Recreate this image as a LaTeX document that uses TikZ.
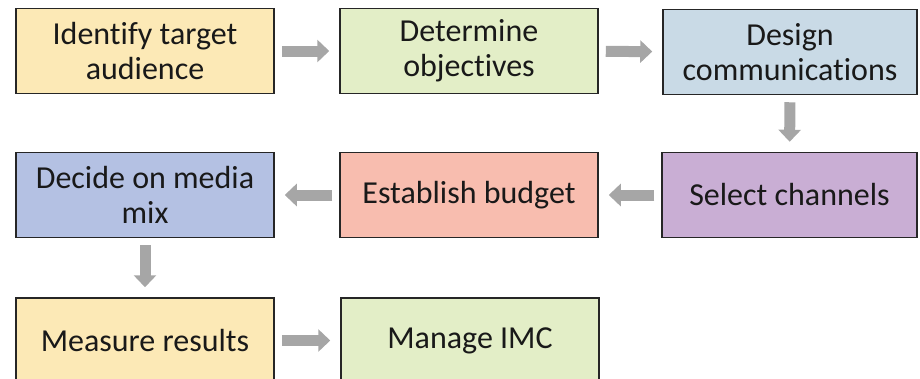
\documentclass[tikz,border=0pt]{standalone}
\usepackage{fontspec}
\setmainfont{Carlito}[Ligatures=NoCommon]
\usepackage{tikz}
\usetikzlibrary{arrows.meta}
\definecolor{jaune}{HTML}{FCE9B6}
\definecolor{vert}{HTML}{E3EEC7}
\definecolor{bleu}{HTML}{C9DAE6}
\definecolor{pervenche}{HTML}{B4C1E3}
\definecolor{saumon}{HTML}{F8BDAF}
\definecolor{lilas}{HTML}{C9AED4}
\definecolor{gris}{HTML}{A6A6A6}

\begin{document}
\begin{tikzpicture}[x=1pt, y=-1pt,
  etape/.style={draw=black!85, line width=1.5pt, minimum width=258pt, minimum height=85pt,
    inner sep=0pt, align=center, text=black!90, font=\fontsize{32}{35}\selectfont},
  fleche/.style={draw=gris, line width=11pt, -{Triangle[width=22pt,length=12pt]},
    shorten <=7pt, shorten >=10pt}]
\useasboundingbox (0,0) rectangle (920,378);
\node [etape, fill=jaune] (etape1) at (145,51) {Identify target\\audience};
\node [etape, fill=vert] (etape2) at (469,51) {Determine\\objectives};
\node [etape, fill=bleu, minimum width=254pt] (etape3) at (790,52) {Design\\communications};
\node [etape, fill=lilas, minimum width=255pt] (etape4) at (789.5,195) {Select channels};
\node [etape, fill=saumon] (etape5) at (469,195) {Establish budget};
\node [etape, fill=pervenche] (etape6) at (145,195) {Decide on media\\mix};
\node [etape, fill=jaune] (etape7) at (145,340.5) {Measure results};
\node [etape, fill=vert] (etape8) at (470,340.5) {Manage IMC};
% grey block arrows between the steps
\draw[fleche] (etape1) -- (etape2);
\draw[fleche] (etape2) -- (etape3);
\draw[fleche] (etape3) -- (etape4);
\draw[fleche] (etape4) -- (etape5);
\draw[fleche] (etape5) -- (etape6);
\draw[fleche] (etape6) -- (etape7);
\draw[fleche] (etape7) -- (etape8);
\end{tikzpicture}
\end{document}
